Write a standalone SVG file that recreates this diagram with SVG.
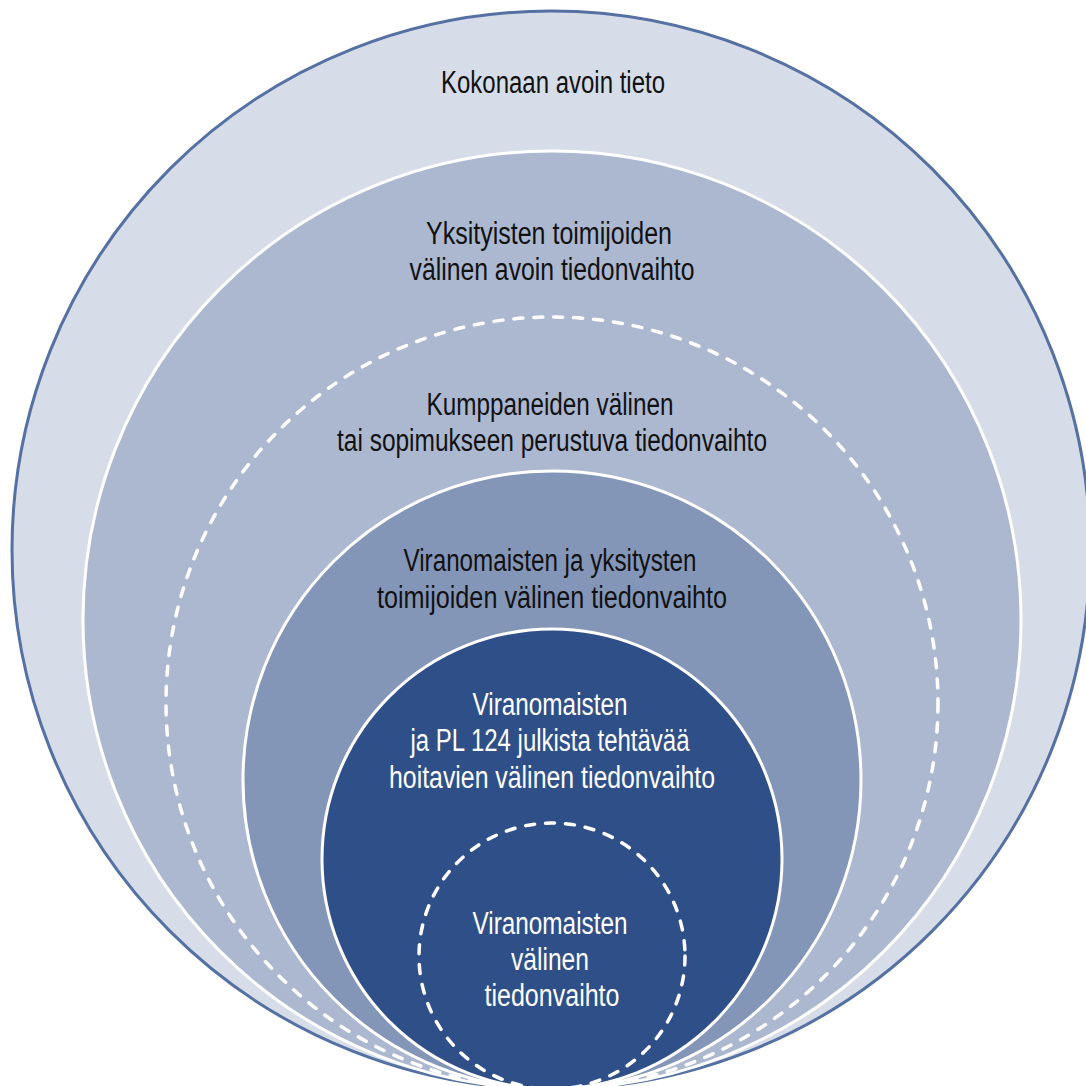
<svg xmlns="http://www.w3.org/2000/svg" width="1086" height="1086" viewBox="0 0 1086 1086">
<style>
.lbl{font-family:"Liberation Sans",Arial,sans-serif;font-size:31px;text-anchor:middle}
.dk{fill:#111111}
.wt{fill:#ffffff}
.ring{stroke:#ffffff;stroke-width:3}
.dash{fill:none;stroke:#ffffff;stroke-width:3.5;stroke-dasharray:9 11;stroke-linecap:round}
</style>
<rect width="1086" height="1086" fill="#ffffff"/>
<g id="kokonaan">
<circle cx="551" cy="550" r="539" fill="#d6dde9" stroke="#5570a2" stroke-width="3"/>
<text class="lbl dk" x="553" y="93" textLength="224" lengthAdjust="spacingAndGlyphs">Kokonaan avoin tieto</text>
</g>
<g id="yksityisten">
<circle class="ring" cx="552" cy="620" r="469" fill="#abb8d0"/>
<text class="lbl dk" x="549" y="244" textLength="246" lengthAdjust="spacingAndGlyphs">Yksityisten toimijoiden</text>
<text class="lbl dk" x="552" y="280" textLength="285" lengthAdjust="spacingAndGlyphs">välinen avoin tiedonvaihto</text>
</g>
<g id="kumppaneiden">
<circle class="dash" cx="552" cy="703" r="386"/>
<text class="lbl dk" x="550" y="415" textLength="247" lengthAdjust="spacingAndGlyphs">Kumppaneiden välinen</text>
<text class="lbl dk" x="552" y="451" textLength="430" lengthAdjust="spacingAndGlyphs">tai sopimukseen perustuva tiedonvaihto</text>
</g>
<g id="viranomaiset-yksityiset">
<circle class="ring" cx="552" cy="780" r="309" fill="#8496b8"/>
<text class="lbl dk" x="550" y="571" textLength="293" lengthAdjust="spacingAndGlyphs">Viranomaisten ja yksitysten</text>
<text class="lbl dk" x="552" y="608" textLength="350" lengthAdjust="spacingAndGlyphs">toimijoiden välinen tiedonvaihto</text>
</g>
<g id="pl124">
<circle class="ring" cx="552" cy="859" r="230" fill="#2f4f88"/>
<text class="lbl wt" x="550" y="715" textLength="155" lengthAdjust="spacingAndGlyphs">Viranomaisten</text>
<text class="lbl wt" x="550" y="751" textLength="279" lengthAdjust="spacingAndGlyphs">ja PL 124 julkista tehtävää</text>
<text class="lbl wt" x="552" y="788" textLength="326" lengthAdjust="spacingAndGlyphs">hoitavien välinen tiedonvaihto</text>
</g>
<g id="viranomaiset">
<circle class="dash" cx="552" cy="956" r="133"/>
<text class="lbl wt" x="550" y="934" textLength="155" lengthAdjust="spacingAndGlyphs">Viranomaisten</text>
<text class="lbl wt" x="550" y="970" textLength="78" lengthAdjust="spacingAndGlyphs">välinen</text>
<text class="lbl wt" x="552" y="1006" textLength="135" lengthAdjust="spacingAndGlyphs">tiedonvaihto</text>
</g>
<g id="connectors"></g>
</svg>
